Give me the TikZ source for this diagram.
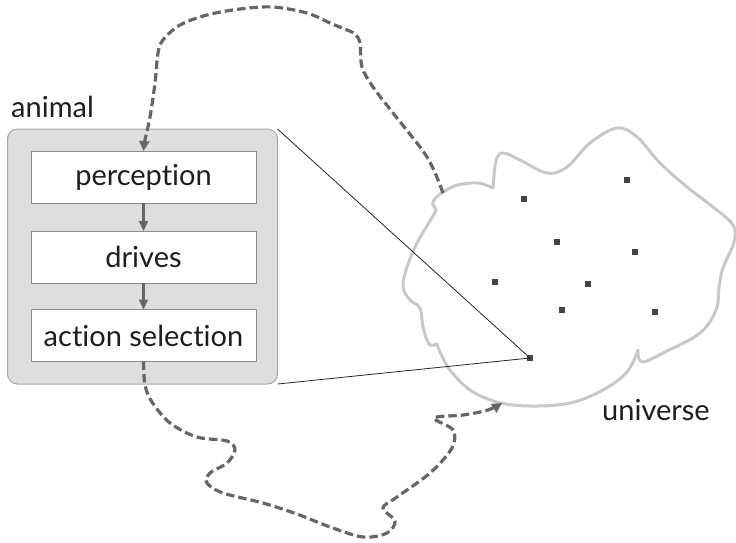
\documentclass[tikz,border=0pt]{standalone}
\usepackage{fontspec}
\setmainfont{Lato}[Ligatures=NoCommon]
\usetikzlibrary{arrows.meta}
\definecolor{boxfill}{HTML}{DEDEDE}
\definecolor{boxline}{HTML}{A8A8A8}
\definecolor{innerline}{HTML}{8C8C8C}
\definecolor{flow}{HTML}{666666}
\definecolor{blob}{HTML}{C8C8C8}
\definecolor{dotc}{HTML}{444444}
\definecolor{ink}{HTML}{1E1E1E}
\tikzset{
  labeltext/.style={font=\fontsize{29}{34}\selectfont, text=ink, inner sep=0pt},
  outerbox/.style={draw=boxline, fill=boxfill, line width=1pt, rounded corners=10pt,
    minimum width=270pt, minimum height=255pt, inner sep=0pt, outer sep=0pt},
  stagebox/.style={draw=innerline, fill=white, line width=0.8pt,
    minimum width=225pt, minimum height=52pt, inner sep=0pt, outer sep=0pt,
    font=\fontsize{29}{34}\selectfont, text=ink},
  stagearrow/.style={draw=flow, line width=2.2pt, -{Triangle[length=10pt,width=9pt]}},
  flowpath/.style={draw=flow, line width=3.2pt, dash pattern=on 8.5pt off 4pt,
    -{Triangle[length=10pt,width=10pt]}},
  zoomline/.style={draw=black!85, line width=0.8pt},
  star/.style={fill=dotc, minimum size=6pt, inner sep=0pt, outer sep=0pt},
  blobline/.style={draw=blob, line width=3pt, line join=round, line cap=round}
}
\begin{document}
\begin{tikzpicture}[x=1pt,y=-1pt]
\useasboundingbox (0,0) rectangle (736,542);

% the universe, an irregular cloud
\path[blobline]
  plot[smooth, tension=0.6] coordinates {(493,188) (478,183) (458,185) (443,192) (434,200) (433,205) (436,210)
     (430,221) (417,243) (407,267) (403,287) (410,300) (420,308) (423,327) (429,344) (437,344)}
  -- plot[smooth, tension=0.6] coordinates {(437,344) (441,354) (450,370) (470,390) (497,402) (530,406) (570,403)
     (603,390) (627,372) (638,350)}
  -- plot[smooth, tension=0.6] coordinates {(638,350) (642,362) (667,351) (700,333) (716,310) (719,287) (723,268)
     (734,242) (733,225) (713,207) (687,187) (660,163) (637,137) (617,128) (590,143) (567,167) (547,173)
     (520,160) (503,153) (496,161) (493,188)};

% objects inside the universe
\node[star] (s1) at (524,199) {};
\node[star] (s2) at (627,180) {};
\node[star] (s3) at (557,242) {};
\node[star] (s4) at (635,252) {};
\node[star] (s5) at (495,282) {};
\node[star] (s6) at (588,284) {};
\node[star] (s7) at (562,310) {};
\node[star] (s8) at (655,312) {};
\node[star] (self) at (530,358) {};
\node[labeltext, anchor=base west] (ulabel) at (602,420) {universe};

% the animal and its internal stages
\node[outerbox] (animal) at (142.5,256.5) {};
\node[labeltext, anchor=base west] (alabel) at (11,117) {animal};
\node[stagebox] (perc) at (143.5,177) {perception};
\node[stagebox] (drv) at (143.5,257) {drives};
\node[stagebox] (act) at (143.5,335.5) {action selection};
\draw[stagearrow] (perc.south) -- (drv.north);
\draw[stagearrow] (drv.south) -- (act.north);

% the animal is one point of the universe
\draw[zoomline] (animal.north east) -- (self.center);
\draw[zoomline] (animal.south east) -- (self.center);

% sensing and acting loops
\coordinate (sense) at (443,193);
\coordinate (affect) at (502,403);
\path[flowpath] plot[smooth, tension=0.55] coordinates {(sense) (427,157) (393,113) (373,87) (362,67)
   (360,43) (355,34) (347,30) (330,23) (307,13) (273,7) (240,9) (207,15) (180,25) (163,40) (158,53)
   (155,83) (150,117) (145,140) (perc.north)};
\path[flowpath] plot[smooth, tension=0.55] coordinates {(act.south) (145,385) (152,402) (170,423) (197,437)
   (227,441) (235,450) (227,463) (210,473) (207,483) (223,493) (263,503) (297,514) (330,527) (363,537)
   (387,533) (395,521) (383,508) (397,497) (430,473) (452,448) (453,430) (434,418) (463,415) (488,410)
   (affect)};
\end{tikzpicture}
\end{document}
